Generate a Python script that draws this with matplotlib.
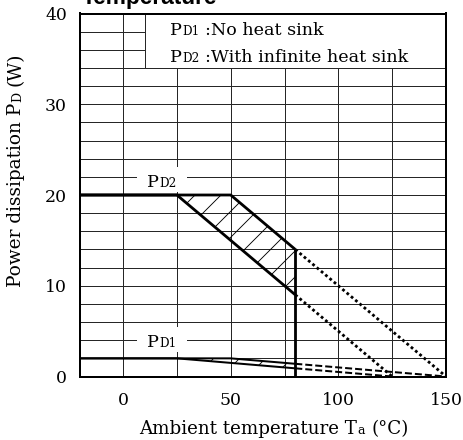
import numpy as np
import matplotlib
matplotlib.use("Agg")
import matplotlib.pyplot as plt
from matplotlib.transforms import IdentityTransform
from matplotlib.patches import Rectangle
from matplotlib.ticker import FixedLocator, MultipleLocator

# ---- derating data: ambient temperature Ta (°C) -> power dissipation PD (W) ----
# PD2: with infinite heat sink (upper / lower bound of the band)
ta_pd2_max = [-20, 50, 80]
pd2_max = [20, 20, 14]
ta_pd2_min = [-20, 25, 80]
pd2_min = [20, 20, 9]
# PD2 continuation beyond the rated range
ta_pd2_ext_max = [80, 150]
pd2_ext_max = [14, 0]
ta_pd2_ext_min = [80, 125]
pd2_ext_min = [9, 0]

# PD1: no heat sink
ta_pd1_max = [-20, 50, 80]
pd1_max = [2, 2, 1.4]
ta_pd1_min = [-20, 25, 80]
pd1_min = [2, 2, 0.9]
ta_pd1_ext_max = [80, 150]
pd1_ext_max = [1.4, 0]
ta_pd1_ext_min = [80, 125]
pd1_ext_min = [0.9, 0]

# rated operating limit
ta_limit = 80

x_ticks = [0, 50, 100, 150]
x_ticklabels = ["0", "50", "100", "150"]
y_ticks = [0, 10, 20, 30, 40]
y_ticklabels = ["0", "10", "20", "30", "40"]

# ---- figure geometry (pixels) ----
DPI = 78
W, H = 463, 440
PT = 72.0 / DPI  # points per pixel

SERIF = "DejaVu Serif"
plt.rcParams["font.family"] = [SERIF]
plt.rcParams["hatch.linewidth"] = 0.9 * PT

fig = plt.figure(figsize=(W / DPI, H / DPI), dpi=DPI)
left, right, top, bottom = 80, 446, 13.5, 376.5
ax = fig.add_axes([left / W, (H - bottom) / H, (right - left) / W, (bottom - top) / H])

ax.set_xlim(-20, 150)
ax.set_ylim(0, 40)

ax.xaxis.set_major_locator(FixedLocator(x_ticks))
ax.xaxis.set_minor_locator(FixedLocator([25, 75, 125]))
ax.set_xticklabels(x_ticklabels)
ax.yaxis.set_major_locator(FixedLocator(y_ticks))
ax.yaxis.set_minor_locator(MultipleLocator(2))
ax.set_yticklabels(y_ticklabels)

ax.tick_params(which="both", length=0)
ax.tick_params(axis="x", pad=15.5 * PT, labelsize=17.3 * PT)
ax.tick_params(axis="y", pad=13 * PT, labelsize=17.3 * PT)

ax.set_axisbelow(True)
ax.grid(True, which="both", color="#262626", linewidth=1.0 * PT)
for sp in ax.spines.values():
    sp.set_linewidth(2.0 * PT)
    sp.set_color("black")

# blank panel holding the legend text
ax.add_patch(Rectangle((10, 34), 140, 6, facecolor="white", edgecolor="#262626",
                       linewidth=1.0 * PT, zorder=1))

thick = 2.8 * PT
thin = 2.0 * PT

# hatched bands
ax.fill(np.r_[ta_pd2_max, ta_pd2_min[::-1]], np.r_[pd2_max, pd2_min[::-1]],
        facecolor="none", edgecolor="black", linewidth=0, hatch="/", zorder=2)
ax.fill(np.r_[ta_pd1_max, ta_pd1_min[::-1]], np.r_[pd1_max, pd1_min[::-1]],
        facecolor="none", edgecolor="black", linewidth=0, hatch="/", zorder=2)

# PD2 curves
ax.plot(ta_pd2_max, pd2_max, color="black", lw=thick, zorder=4, solid_capstyle="butt")
ax.plot(ta_pd2_min, pd2_min, color="black", lw=thick, zorder=4, solid_capstyle="butt")
ax.plot(ta_pd2_ext_max, pd2_ext_max, color="black", lw=thick, ls=(0, (1, 1)),
        dash_capstyle="butt", zorder=4)
ax.plot(ta_pd2_ext_min, pd2_ext_min, color="black", lw=thick, ls=(0, (1, 1)),
        dash_capstyle="butt", zorder=4)

# PD1 curves
ax.plot(ta_pd1_max, pd1_max, color="black", lw=thin, zorder=4)
ax.plot(ta_pd1_min, pd1_min, color="black", lw=thin, zorder=4)
ax.plot(ta_pd1_ext_max, pd1_ext_max, color="black", lw=thin, ls=(0, (3.5, 1.5)),
        dash_capstyle="butt", zorder=4)
ax.plot(ta_pd1_ext_min, pd1_ext_min, color="black", lw=thin, ls=(0, (3.5, 1.5)),
        dash_capstyle="butt", zorder=4)

# vertical limit at the rated temperature
ax.vlines(ta_limit, 0, pd2_max[-1], color="black", lw=thick, zorder=4)

# ---- mixed-size text runs (small subscript letters sitting on the baseline) ----
renderer = fig.canvas.get_renderer()


def draw_runs(target, anchor, runs, rotation=0, align="left", **kw):
    """Place consecutive text runs; anchor is the baseline start in display pixels."""
    items = []
    for s, px, gap in runs:
        t = target.text(0, 0, s, transform=IdentityTransform(), fontsize=px * PT,
                        rotation=rotation, rotation_mode="anchor",
                        ha="left", va="baseline", **kw)
        bb = t.get_window_extent(renderer)
        length = bb.width if rotation == 0 else bb.height
        items.append((t, gap, length))
    total = sum(g + l for _, g, l in items)
    x, y = anchor
    pos = (x if rotation == 0 else y) - (total / 2 if align == "center" else 0)
    for t, gap, length in items:
        pos += gap
        t.set_position((pos, y) if rotation == 0 else (x, pos))
        pos += length
    return items


MAIN, SUB = 17.5, 12.0

# legend text inside the panel
draw_runs(fig, (170, H - 35), [("P", MAIN, 0), ("D1", SUB, 0.5), (":No heat sink", MAIN, 5)],
          zorder=5)
draw_runs(fig, (170, H - 62), [("P", MAIN, 0), ("D2", SUB, 0.5),
                               (":With infinite heat sink", MAIN, 5)], zorder=5)

# curve labels with a white knock-out behind them
for name, (lx, ly) in (("D2", (18, 20.9)), ("D1", (18, 3.25))):
    px, py = ax.transData.transform((lx, ly))
    items = draw_runs(ax, (px, py), [("P", MAIN, 0), (name, SUB, 0.5)], align="center",
                      zorder=3.5)
    x0 = min(t.get_window_extent(renderer).x0 for t, _, _ in items) - 10
    x1 = max(t.get_window_extent(renderer).x1 for t, _, _ in items) + 10
    ax.add_patch(Rectangle((x0, py - 5), x1 - x0, 25, transform=IdentityTransform(),
                           facecolor="white", edgecolor="none", zorder=3))

# axis titles
draw_runs(fig, (274, H - 434), [("Ambient temperature T", 18.3, 0), ("a", 12.5, 0.5),
                                ("(°C)", 18.3, 6)], align="center")
draw_runs(fig, (21, H - 170), [("Power dissipation P", 18.5, 0), ("D", 12.5, 0.5),
                               ("(W)", 18.5, 6)], rotation=90, align="center")

# chart title, its upper part runs off the top edge
fig.text(82, H - 4, "Temperature", transform=IdentityTransform(), fontsize=22.8 * PT,
         fontweight="bold", family="Liberation Sans", ha="left", va="baseline")

fig.savefig("out.png", dpi=DPI)
